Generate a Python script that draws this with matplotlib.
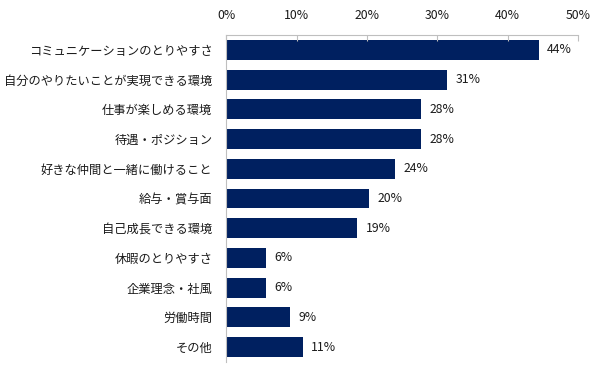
import matplotlib.pyplot as plt
from matplotlib.ticker import FuncFormatter

plt.rcParams['font.family'] = ['Noto Sans CJK JP', 'DejaVu Sans']

categories = ['コミュニケーションのとりやすさ', '自分のやりたいことが実現できる環境', '仕事が楽しめる環境',
              '待遇・ポジション', '好きな仲間と一緒に働けること', '給与・賞与面', '自己成長できる環境',
              '休暇のとりやすさ', '企業理念・社風', '労働時間', 'その他']
values = [44.4, 31.4, 27.7, 27.7, 24.0, 20.3, 18.6, 5.6, 5.6, 9.1, 10.9]
labels = ['44%', '31%', '28%', '28%', '24%', '20%', '19%', '6%', '6%', '9%', '11%']

fig = plt.figure(figsize=(6.08, 3.72), dpi=100)
ax = fig.add_axes([0.372, 0.027, 0.579, 0.879])

y = list(range(len(categories)))
ax.barh(y, values, height=0.67, color='#002060')
ax.set_ylim(len(categories) - 0.5, -0.5)
ax.set_xlim(0, 50)

for yi, v, lab in zip(y, values, labels):
    ax.text(v + 1.2, yi, lab, va='center', ha='left', fontsize=8.8, color='#1a1a1a')

ax.set_xticks(range(0, 51, 10))
ax.xaxis.set_major_formatter(FuncFormatter(lambda x, p: f'{x:.0f}%'))
ax.xaxis.tick_top()
ax.tick_params(axis='x', direction='in', length=4, color='#bfbfbf', labelsize=8.8, pad=9, labelcolor='#1a1a1a')
ax.set_yticks(y)
ax.set_yticklabels(categories, fontsize=8.8, color='#1a1a1a')
ax.tick_params(axis='y', length=0, pad=10)

for s in ['bottom', 'right']:
    ax.spines[s].set_visible(False)
ax.spines['top'].set_color('#bfbfbf')
ax.spines['left'].set_color('#bfbfbf')

fig.savefig('out.png', dpi=100)
